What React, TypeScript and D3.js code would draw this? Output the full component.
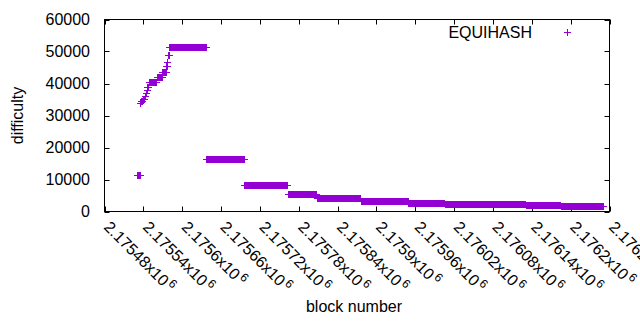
import { useEffect, useRef } from 'react'
import * as d3 from 'd3'

const W = 640, H = 330
const PLOT = { left: 104.5, right: 609.5, top: 19.5, bottom: 211.5 }
const FONT = '"Liberation Sans", Arial, sans-serif'
const PURPLE = '#9400d3'

const X_DOMAIN = [2175480, 2176260]
const Y_DOMAIN = [0, 60000]
const X_TICKS = [
  2175480, 2175540, 2175600, 2175660, 2175720, 2175780, 2175840,
  2175900, 2175960, 2176020, 2176080, 2176140, 2176200, 2176260,
]
const Y_TICKS = [0, 10000, 20000, 30000, 40000, 50000, 60000]

// difficulty holds constant across runs of consecutive blocks
const RUN_START = [
  2175531, 2175536, 2175537, 2175540, 2175543, 2175545, 2175546, 2175547,
  2175549, 2175562, 2175570, 2175576, 2175578, 2175579, 2175581,
  2175638, 2175697, 2175764, 2175809, 2175877, 2175950, 2176006, 2176132, 2176186,
]
const RUN_END = [
  2175535, 2175536, 2175539, 2175542, 2175544, 2175545, 2175546, 2175548,
  2175561, 2175569, 2175575, 2175577, 2175578, 2175580, 2175637,
  2175696, 2175763, 2175808, 2175876, 2175949, 2176005, 2176131, 2176185, 2176251,
]
const RUN_DIFF = [
  11100, 33700, 34500, 35100, 35900, 37000, 37800, 38700,
  40200, 41900, 43500, 45200, 46700, 48800, 51100,
  16100, 8100, 5250, 3950, 3050, 2600, 2150, 1880, 1500,
]

const SERIES_LABEL = 'EQUIHASH'

export default function App() {
  const svgRef = useRef<SVGSVGElement>(null)

  useEffect(() => {
    document.body.style.margin = '0'
    const svg = d3.select(svgRef.current!)
    svg.selectAll('*').remove()

    const x = d3.scaleLinear().domain(X_DOMAIN).range([PLOT.left, PLOT.right])
    const y = d3.scaleLinear().domain(Y_DOMAIN).range([PLOT.bottom, PLOT.top])

    // ── ticks (inward, mirrored) ──────────────────────────────────────────
    const tk = 5
    const ticks = svg.append('g').attr('stroke', '#000').attr('stroke-width', 1)
    X_TICKS.forEach(v => {
      const px = Math.round(x(v)) + 0.5
      ticks.append('line').attr('x1', px).attr('x2', px).attr('y1', PLOT.bottom).attr('y2', PLOT.bottom - tk)
      ticks.append('line').attr('x1', px).attr('x2', px).attr('y1', PLOT.top).attr('y2', PLOT.top + tk)
    })
    Y_TICKS.forEach(v => {
      const py = Math.round(y(v)) + 0.5
      ticks.append('line').attr('x1', PLOT.left).attr('x2', PLOT.left + tk).attr('y1', py).attr('y2', py)
      ticks.append('line').attr('x1', PLOT.right).attr('x2', PLOT.right - tk).attr('y1', py).attr('y2', py)
    })

    // ── tick labels ───────────────────────────────────────────────────────
    svg.append('g').selectAll('text').data(Y_TICKS).join('text')
      .attr('x', 90).attr('y', d => y(d)).attr('dy', '0.35em')
      .attr('text-anchor', 'end').attr('font-family', FONT).attr('font-size', 16)
      .attr('fill', '#000').text(d => String(d))

    const xl = svg.append('g').selectAll('text').data(X_TICKS).join('text')
      .attr('transform', d => `translate(${x(d) + 2.5},224) rotate(45)`)
      .attr('dy', '0.35em')
      .attr('font-family', FONT).attr('font-size', 16).attr('fill', '#000')
    xl.append('tspan').text(d => `${+(d / 1e6).toFixed(5)}x10`)
    xl.append('tspan').attr('dx', 2).attr('dy', -6).attr('font-size', 12).text('6')

    // ── axis titles ───────────────────────────────────────────────────────
    svg.append('text')
      .attr('transform', `translate(17,${(PLOT.top + PLOT.bottom) / 2}) rotate(-90)`)
      .attr('dy', '0.35em').attr('text-anchor', 'middle')
      .attr('font-family', FONT).attr('font-size', 16).attr('fill', '#000')
      .text('difficulty')

    svg.append('text')
      .attr('x', 354).attr('y', 312).attr('text-anchor', 'middle')
      .attr('font-family', FONT).attr('font-size', 16).attr('fill', '#000')
      .text('block number')

    // ── points: one "+" per block ─────────────────────────────────────────
    const pts: [number, number][] = []
    RUN_START.forEach((s, i) => {
      for (let b = s; b <= RUN_END[i]; b++) pts.push([b, RUN_DIFF[i]])
    })
    const hs = 3.5
    const d = pts.map(([b, v]) => {
      const px = x(b), py = y(v)
      return `M${px - hs},${py}h${hs * 2}M${px},${py - hs}v${hs * 2}`
    }).join('')
    svg.append('path').attr('d', d)
      .attr('fill', 'none').attr('stroke', PURPLE).attr('stroke-width', 1)
      .attr('shape-rendering', 'crispEdges')

    // ── legend ────────────────────────────────────────────────────────────
    svg.append('text')
      .attr('x', 532).attr('y', 38).attr('text-anchor', 'end')
      .attr('font-family', FONT).attr('font-size', 16).attr('fill', '#000')
      .text(SERIES_LABEL)
    svg.append('path')
      .attr('d', `M${567 - hs},32.5h${hs * 2}M567,${32.5 - hs}v${hs * 2}`)
      .attr('stroke', PURPLE).attr('stroke-width', 1).attr('fill', 'none')
      .attr('shape-rendering', 'crispEdges')

    // ── frame ─────────────────────────────────────────────────────────────
    svg.append('rect')
      .attr('x', PLOT.left).attr('y', PLOT.top)
      .attr('width', PLOT.right - PLOT.left).attr('height', PLOT.bottom - PLOT.top)
      .attr('fill', 'none').attr('stroke', '#000').attr('stroke-width', 1)
  }, [])

  return (
    <svg ref={svgRef} width={W} height={H} viewBox={`0 0 ${W} ${H}`}
      style={{ display: 'block', background: '#fff' }} />
  )
}
